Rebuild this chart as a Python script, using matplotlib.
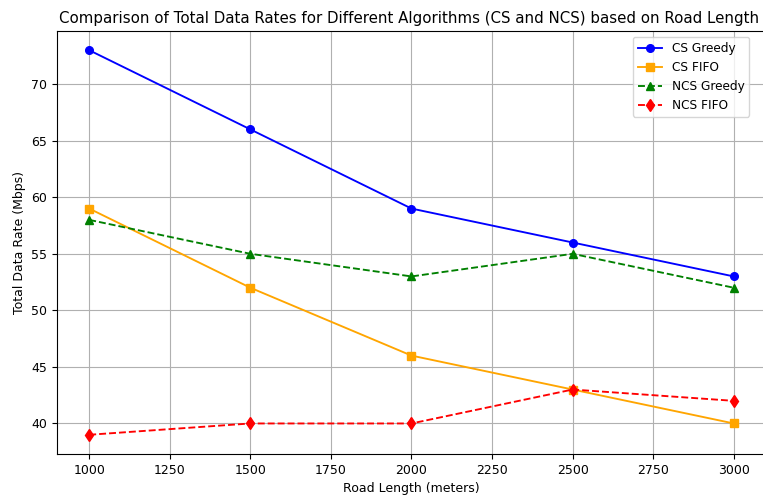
import matplotlib
matplotlib.use("Agg")
import matplotlib.pyplot as plt

road_length = [1000, 1500, 2000, 2500, 3000]
cs_greedy = [73, 66, 59, 56, 53]
cs_fifo = [59, 52, 46, 43, 40]
ncs_greedy = [58, 55, 53, 55, 52]
ncs_fifo = [39, 40, 40, 43, 42]

fig = plt.figure(figsize=(7.63, 4.97), dpi=100)
ax = fig.add_axes([57 / 763, 43 / 497, 709 / 763, 423 / 497])

ax.plot(road_length, cs_greedy, 'o-', color='blue', label='CS Greedy', markersize=5.5, linewidth=1.35)
ax.plot(road_length, cs_fifo, 's-', color='orange', label='CS FIFO', markersize=5.5, linewidth=1.35)
ax.plot(road_length, ncs_greedy, '^--', color='green', label='NCS Greedy', markersize=5.5, linewidth=1.35)
ax.plot(road_length, ncs_fifo, 'd--', color='red', label='NCS FIFO', markersize=6, linewidth=1.35)

ax.set_title('Comparison of Total Data Rates for Different Algorithms (CS and NCS) based on Road Length',
             fontsize=10.8, x=0.497)
ax.set_xlabel('Road Length (meters)', fontsize=9)
ax.set_ylabel('Total Data Rate (Mbps)', fontsize=9)
ax.tick_params(labelsize=9)
ax.grid(True)
ax.legend(fontsize=8.7, loc='upper right', bbox_to_anchor=(0.985, 1.0))

fig.savefig('out.png', dpi=100)
